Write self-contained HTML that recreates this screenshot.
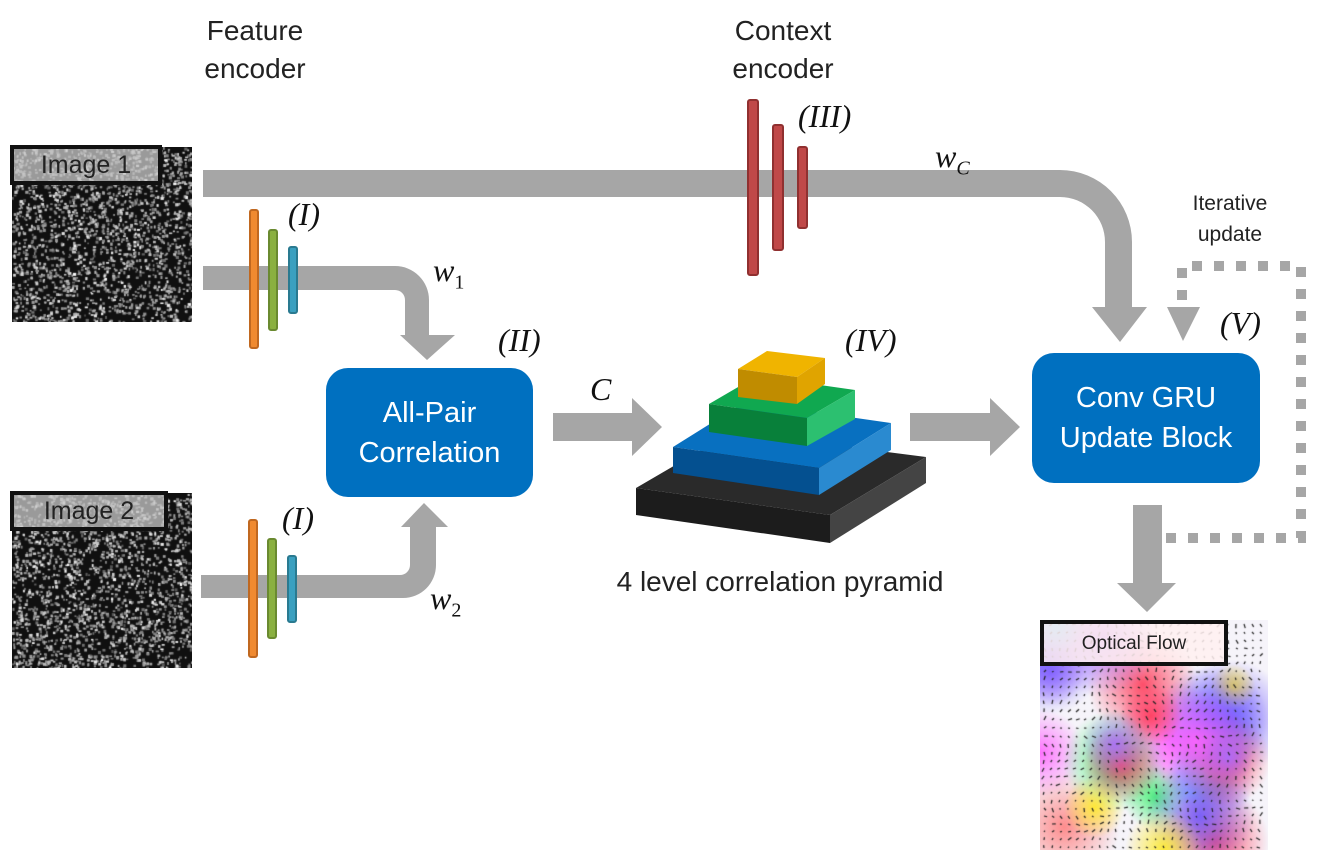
<!DOCTYPE html>
<html><head><meta charset="utf-8">
<style>
html,body{margin:0;padding:0;background:#fff;}
body{width:1327px;height:858px;position:relative;overflow:hidden;font-family:"Liberation Sans",sans-serif;}
.t{position:absolute;color:#222;font-size:28px;text-align:center;line-height:38px;}
.m{position:absolute;font-family:"Liberation Serif",serif;font-style:italic;font-size:32px;color:#111;}
.box{position:absolute;background:#0070c0;border-radius:22px;color:#fff;font-size:29px;text-align:center;display:flex;align-items:center;justify-content:center;line-height:40px;}
.lbl{position:absolute;border:4px solid #111;background:rgba(200,200,200,.75);font-size:25px;color:#222;text-align:center;box-sizing:border-box;}
canvas{position:absolute;}
</style></head><body>
<canvas id="i1" width="180" height="175" style="left:12px;top:147px"></canvas>
<canvas id="i2" width="180" height="175" style="left:12px;top:493px"></canvas>
<canvas id="of" width="228" height="230" style="left:1040px;top:620px"></canvas>
<div class="lbl" style="left:10px;top:145px;width:152px;height:40px;line-height:33px">Image 1</div>
<div class="lbl" style="left:10px;top:491px;width:158px;height:40px;line-height:33px">Image 2</div>
<div class="lbl" style="left:1040px;top:620px;width:188px;height:46px;line-height:40px;font-size:19px;background:rgba(255,240,240,.85)">Optical Flow</div>

<svg width="1327" height="858" style="position:absolute;left:0;top:0" xmlns="http://www.w3.org/2000/svg">
<g fill="#a6a6a6">
<path d="M203 170 H1060 A72 72 0 0 1 1132 242 V307 H1147 L1120 342 L1092 307 H1105 V242 A45 45 0 0 0 1060 197 H203 Z"/>
<path d="M203 266 H395 A34 34 0 0 1 429 300 V335 H455 L427 360 L400 335 H405 V300 A10 10 0 0 0 395 290 H203 Z"/>
<path d="M201 575 H400 A10 10 0 0 0 410 565 V527 H401 L424 503 L448 527 H436 V565 A33 33 0 0 1 403 598 H201 Z"/>
<path d="M553 413 H632 V398 L662 427 L632 456 V441 H553 Z"/>
<path d="M910 413 H990 V398 L1020 427 L990 456 V441 H910 Z"/>
<path d="M1133 505 H1162 V583 H1176 L1147 612 L1117 583 H1133 Z"/>
<path d="M1167 307 H1200 L1183 341 Z"/>
</g>
<g stroke="#a6a6a6" stroke-width="10" stroke-dasharray="10 12" fill="none">
<path d="M1182 300 V266 H1301 V538 H1162"/>
</g>
<g stroke-width="2">
<rect x="250" y="210" width="8" height="138" fill="#f08a30" stroke="#c06820" rx="2"/>
<rect x="269" y="230" width="8" height="100" fill="#8ab040" stroke="#6a8a30" rx="2"/>
<rect x="289" y="247" width="8" height="66" fill="#3aa0c0" stroke="#2a7a90" rx="2"/>
<rect x="249" y="520" width="8" height="137" fill="#f08a30" stroke="#c06820" rx="2"/>
<rect x="268" y="539" width="8" height="99" fill="#8ab040" stroke="#6a8a30" rx="2"/>
<rect x="288" y="556" width="8" height="66" fill="#3aa0c0" stroke="#2a7a90" rx="2"/>
<rect x="748" y="100" width="10" height="175" fill="#c04848" stroke="#903030" rx="2"/>
<rect x="773" y="125" width="10" height="125" fill="#c04848" stroke="#903030" rx="2"/>
<rect x="798" y="147" width="9" height="81" fill="#c04848" stroke="#903030" rx="2"/>
</g>
<polygon points="636,488 830,515 926,457 732,432" fill="#2a2a2a"/>
<polygon points="636,488 830,515 830,543 636,515" fill="#1c1c1c"/>
<polygon points="830,515 926,457 926,483 830,543" fill="#444"/>
<polygon points="673,447 819,468 891,423 745,402" fill="#0870c0"/>
<polygon points="673,447 819,468 819,495 673,473" fill="#045090"/>
<polygon points="819,468 891,423 891,450 819,495" fill="#2a8ad0"/>
<polygon points="709,404 807,418 855,390 757,376" fill="#10a850"/>
<polygon points="709,404 807,418 807,446 709,432" fill="#08803a"/>
<polygon points="807,418 855,390 855,419 807,446" fill="#2cc070"/>
<polygon points="738,369 797,377 825,358 767,351" fill="#f0b400"/>
<polygon points="738,369 797,377 797,404 738,397" fill="#c08c00"/>
<polygon points="797,377 825,358 825,384 797,404" fill="#e0a400"/>
</svg>

<div class="box" style="left:326px;top:368px;width:207px;height:129px">All-Pair<br>Correlation</div>
<div class="box" style="left:1032px;top:353px;width:228px;height:130px">Conv GRU<br>Update Block</div>

<div class="t" style="left:155px;top:12px;width:200px">Feature<br>encoder</div>
<div class="t" style="left:683px;top:12px;width:200px">Context<br>encoder</div>
<div class="t" style="left:570px;top:563px;width:420px">4 level correlation pyramid</div>
<div class="t" style="left:1170px;top:188px;width:120px;font-size:21px;line-height:31px">Iterative<br>update</div>

<div class="m" style="left:288px;top:196px">(<i>I</i>)</div>
<div class="m" style="left:282px;top:500px">(<i>I</i>)</div>
<div class="m" style="left:798px;top:98px">(<i>III</i>)</div>
<div class="m" style="left:498px;top:322px">(<i>II</i>)</div>
<div class="m" style="left:845px;top:322px">(<i>IV</i>)</div>
<div class="m" style="left:1220px;top:305px">(<i>V</i>)</div>
<div class="m" style="left:590px;top:371px">C</div>
<div class="m" style="left:935px;top:138px">w<sub style="font-size:20px">C</sub></div>
<div class="m" style="left:433px;top:252px">w<sub style="font-size:20px;font-style:normal">1</sub></div>
<div class="m" style="left:430px;top:580px">w<sub style="font-size:20px;font-style:normal">2</sub></div>

<script>
function rng(s){return function(){s=(s*1103515245+12345)&0x7fffffff;return s/0x7fffffff;}}
function noise(id,seed){var c=document.getElementById(id).getContext('2d');var r=rng(seed);
c.fillStyle='#101010';c.fillRect(0,0,180,175);
for(var i=0;i<2200;i++){var v=Math.floor(130+r()*125);c.fillStyle='rgba('+v+','+v+','+v+','+(0.55+r()*0.45)+')';c.fillRect(r()*180,r()*175,1.5+r()*1.8,1.5+r()*1.8);}}
noise('i1',7);noise('i2',99);
(function(){var c=document.getElementById('of').getContext('2d');var r=rng(42);
c.fillStyle='#f6f4fa';c.fillRect(0,0,228,230);
var cols=['255,60,90','110,90,255','60,210,255','255,235,40','60,240,110','255,100,255','255,130,130','170,110,255'];
for(var i=0;i<26;i++){var x=r()*228,y=r()*230,rad=22+r()*40;var g=c.createRadialGradient(x,y,0,x,y,rad);var col=cols[Math.floor(r()*cols.length)];
g.addColorStop(0,'rgba('+col+',0.9)');g.addColorStop(0.5,'rgba('+col+',0.45)');g.addColorStop(1,'rgba('+col+',0)');c.fillStyle=g;c.fillRect(x-rad,y-rad,rad*2,rad*2);}
c.strokeStyle='#222';c.lineWidth=1.2;
for(var y=4;y<230;y+=8)for(var x=4;x<228;x+=8){var a=Math.sin(x*0.05)+Math.cos(y*0.04)*2;var l=1.5+r()*3;c.beginPath();c.moveTo(x,y);c.lineTo(x+Math.cos(a)*l,y+Math.sin(a)*l);c.stroke();}
})();
</script>
</body></html>
